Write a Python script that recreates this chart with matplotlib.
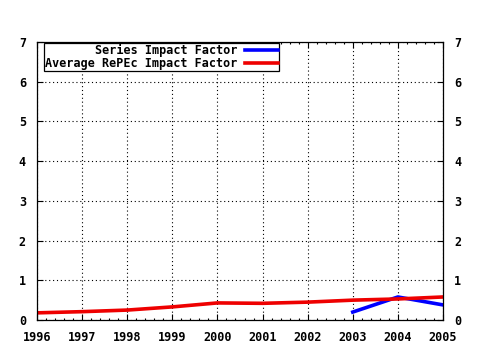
import matplotlib
matplotlib.use("Agg")
from matplotlib import pyplot as plt
from matplotlib.ticker import MultipleLocator, NullLocator

years = [1996, 1997, 1998, 1999, 2000, 2001, 2002, 2003, 2004, 2005]
avg_repec = [0.18, 0.21, 0.25, 0.33, 0.43, 0.42, 0.45, 0.50, 0.53, 0.58]
series_years = [2003, 2004, 2005]
series_if = [0.20, 0.58, 0.38]

plt.rcParams['font.family'] = 'DejaVu Sans Mono'
plt.rcParams['font.weight'] = 'bold'
plt.rcParams['font.size'] = 8.5

fig = plt.figure(figsize=(4.8, 3.5), dpi=100)
ax = fig.add_axes([37/480, 30/350, 406/480, 278/350])

ax.plot(series_years, series_if, color='#0000ff', linewidth=2.6, label='Series Impact Factor')
ax.plot(years, avg_repec, color='#ee0000', linewidth=2.6, label='Average RePEc Impact Factor')

ax.set_xlim(1996, 2005)
ax.set_ylim(0, 7)
ax.xaxis.set_major_locator(MultipleLocator(1))
ax.xaxis.set_minor_locator(MultipleLocator(0.2))
ax.yaxis.set_major_locator(MultipleLocator(1))
ax.yaxis.set_minor_locator(NullLocator())
ax.grid(True, which='major', color='black', linestyle=(0, (1, 2.5)), linewidth=0.8)
ax.tick_params(which='both', direction='in', top=True, right=True, labelright=True, color='black', width=0.8)
ax.tick_params(which='major', length=4, pad=8)
ax.tick_params(which='minor', length=1.5)
for s in ax.spines.values():
    s.set_linewidth(0.9)

leg = ax.legend(loc='upper left', markerfirst=False, frameon=True, fancybox=False,
                edgecolor='black', framealpha=1, borderpad=0.1, handlelength=2.8,
                labelspacing=0.0, borderaxespad=0, handletextpad=0.6,
                bbox_to_anchor=(7/406, 1 - 1/278))
leg.get_frame().set_linewidth(0.9)
for t in leg.get_texts():
    t.set_ha('right')
leg._legend_box.align = 'right'

fig.savefig('out.png', dpi=100)
